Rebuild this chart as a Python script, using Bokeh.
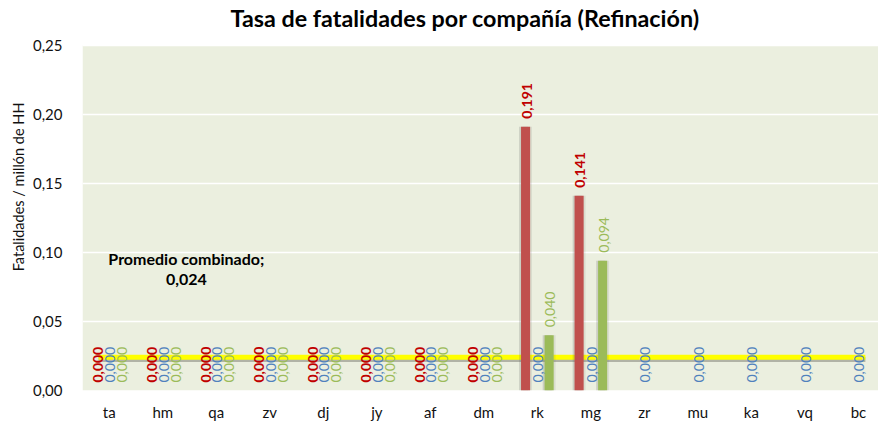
import numpy as np
from bokeh.plotting import figure
from bokeh.models import ColumnDataSource, FixedTicker, Range1d, Label, LabelSet, Title, BoxAnnotation
from bokeh.core.properties import value
from bokeh.embed import file_html
from bokeh.resources import INLINE

categories = ["ta", "hm", "qa", "zv", "dj", "jy", "af", "dm", "rk", "mg", "zr", "mu", "ka", "vq", "bc"]
nan = float("nan")
red_vals = [0, 0, 0, 0, 0, 0, 0, 0, 0.191, 0.141, nan, nan, nan, nan, nan]
blue_vals = [0] * 15
green_vals = [0, 0, 0, 0, 0, 0, 0, 0, 0.040, 0.094, nan, nan, nan, nan, nan]
promedio = 0.024
y_ticks = [0.0, 0.05, 0.10, 0.15, 0.20, 0.25]
y_tick_labels = ["0,00", "0,05", "0,10", "0,15", "0,20", "0,25"]
y_title = "Fatalidades / millón de HH"
title = "Tasa de fatalidades por compañía (Refinación)"

FONT = "Lato"
BG = "#EBEFDF"
Y_MAX = 0.25
FRAME_H, AREA_H = 391, 346  # frame runs to the top of the page; plot area is the lower part

p = figure(width=878, height=423, output_backend="svg", toolbar_location=None,
           x_range=Range1d(-0.5, 14.375), y_range=Range1d(0, Y_MAX * FRAME_H / AREA_H),
           min_border_left=82, min_border_right=0, min_border_top=0, min_border_bottom=32)
p.background_fill_color = "white"
p.border_fill_color = "white"
p.outline_line_color = None
p.add_layout(BoxAnnotation(bottom=0, top=Y_MAX, fill_color=BG, fill_alpha=1,
                           line_color=None, level="image"))

xs = np.arange(len(categories))
p.xaxis.ticker = FixedTicker(ticks=list(xs))
p.xaxis.major_label_overrides = {int(i): c for i, c in zip(xs, categories)}
p.yaxis.ticker = FixedTicker(ticks=y_ticks)
p.yaxis.major_label_overrides = {t: l for t, l in zip(y_ticks, y_tick_labels)}
for ax in (p.xaxis, p.yaxis):
    ax.axis_line_color = None
    ax.major_tick_line_color = None
    ax.minor_tick_line_color = None
    ax.major_label_text_font = FONT
    ax.major_label_text_font_size = "15px"
    ax.major_label_text_color = "#111111"
p.xaxis.major_label_standoff = 6
p.yaxis.major_label_standoff = 14
p.xgrid.grid_line_color = None
p.ygrid.grid_line_color = "white"
p.ygrid.grid_line_width = 1.5

# chart title (inside the extended frame, above the plot area)
p.add_layout(Label(x=148, y=372.5, x_units="screen", y_units="screen", text=title,
                   text_align="left", text_baseline="middle",
                   text_font=FONT, text_font_size="23.3px", text_font_style="bold",
                   text_color="#000000"))

# y-axis title, placed above the plot-area centre like the reference
p.add_layout(Title(text=y_title, align="right", offset=102, standoff=6,
                   text_font=FONT, text_font_size="14.5px", text_font_style="normal",
                   text_color="#111111"), "left")

off = 0.22
bw = 0.17
series = [
    (red_vals, -off, "#C0504D", "#C00000", "bold"),
    (blue_vals, 0.0, "#4F81BD", "#4F81BD", "normal"),
    (green_vals, off, "#9BBB59", "#9BBB59", "normal"),
]

# average line with soft shadow
line_x = [xs[0] - 0.2, xs[-1] + 0.13]
p.line(line_x, [promedio - 0.0016] * 2, line_color="#8a8a80", line_width=5, line_alpha=0.6)
p.line(line_x, [promedio] * 2, line_color="#FFFF00", line_width=5)

for vals, dx, bar_col, lab_col, style in series:
    v = np.array(vals, dtype=float)
    mask = ~np.isnan(v)
    src = ColumnDataSource(dict(
        x=(xs + dx)[mask], top=v[mask],
        lab=[f"{t:.3f}".replace(".", ",") for t in v[mask]],
    ))
    pos = v[mask] > 0
    for sdx, a in ((-0.035, 0.22), (0.035, 0.12)):
        sh = ColumnDataSource(dict(x=(xs + dx + sdx)[mask][pos], top=v[mask][pos]))
        p.vbar(x="x", top="top", bottom=0, width=bw, source=sh,
               fill_color="#5a5a5a", line_color=None, fill_alpha=a)
    p.vbar(x="x", top="top", bottom=0, width=bw, source=src,
           fill_color=bar_col, line_color=None)
    ls = LabelSet(x="x", y="top", text="lab", source=src, angle=np.pi / 2,
                  x_offset=1, y_offset=8, text_align="left", text_baseline="middle",
                  text_font=value(FONT), text_font_size="14px",
                  text_font_style=style, text_color=lab_col)
    p.add_layout(ls)

p.add_layout(Label(x=1.44, y=0.0953, text="Promedio combinado;", text_align="center",
                   text_baseline="middle", text_font=FONT, text_font_size="16px",
                   text_font_style="bold", text_color="#000000"))
p.add_layout(Label(x=1.44, y=0.0803, text=f"{promedio:.3f}".replace(".", ","), text_align="center",
                   text_baseline="middle", text_font=FONT, text_font_size="16px",
                   text_font_style="bold", text_color="#000000"))

open("out.html", "w").write(file_html(p, INLINE))
